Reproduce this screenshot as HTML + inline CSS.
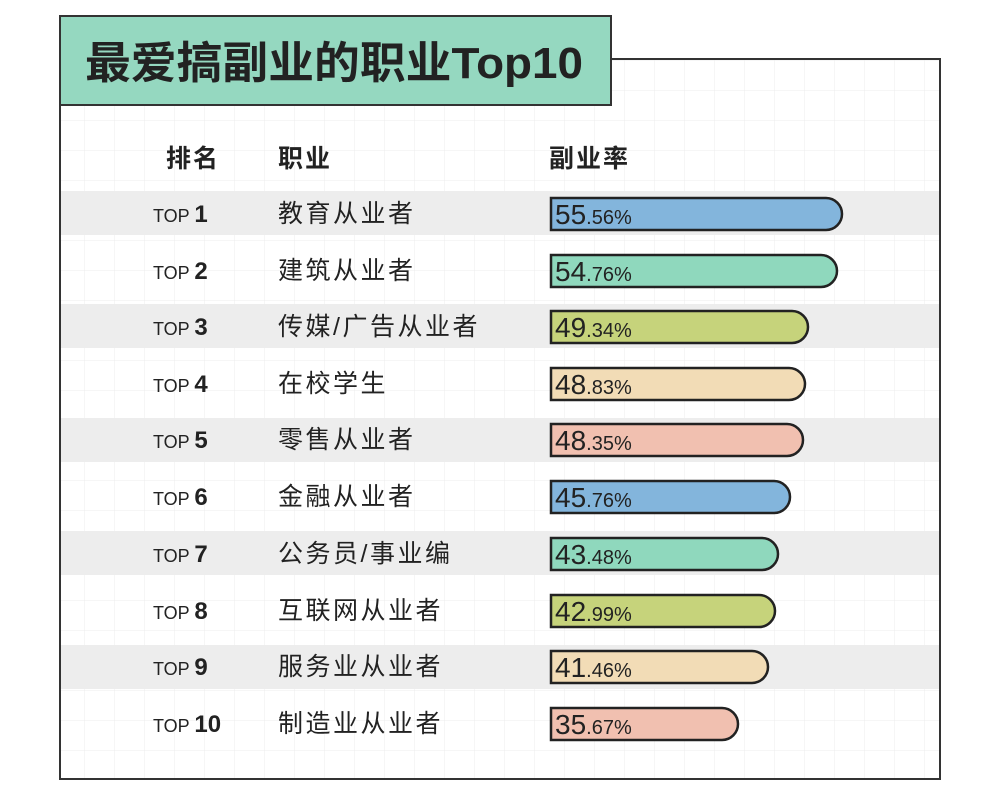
<!DOCTYPE html>
<html><head><meta charset="utf-8"><style>
html,body{margin:0;padding:0;background:#fff;}
svg{display:block;}
text{font-family:"Liberation Sans","Noto Sans CJK SC",sans-serif;fill:#222;}
</style></head><body>
<svg width="1000" height="801" viewBox="0 0 1000 801" xmlns="http://www.w3.org/2000/svg">
<defs>
<pattern id="g" x="24" y="0" width="30" height="30" patternUnits="userSpaceOnUse">
<path d="M0 0H30M0 0V30" stroke="#ececec" stroke-width="1" fill="none"/>
</pattern>
<clipPath id="c"><rect x="60" y="59" width="880" height="720"/></clipPath>
</defs>
<rect x="60" y="59" width="880" height="720" fill="#fff"/>
<rect x="60" y="59" width="880" height="720" fill="url(#g)"/>
<g clip-path="url(#c)" fill="#ededed">
<rect x="60" y="191" width="880" height="44"/>
<rect x="60" y="304" width="880" height="44"/>
<rect x="60" y="418" width="880" height="44"/>
<rect x="60" y="531" width="880" height="44"/>
<rect x="60" y="645" width="880" height="44"/>
</g>
<rect x="60" y="59" width="880" height="720" fill="none" stroke="#333" stroke-width="2"/>
<rect x="60" y="16" width="551" height="89" fill="#95d8c0" stroke="#333" stroke-width="2"/>
<text x="85" y="78" font-size="44" font-weight="bold" fill="#111" textLength="498" lengthAdjust="spacingAndGlyphs">最爱搞副业的职业Top10</text>
<text x="166" y="167" font-size="25" font-weight="bold" letter-spacing="2">排名</text>
<text x="278" y="167" font-size="25" font-weight="bold" letter-spacing="2">职业</text>
<text x="549" y="167" font-size="25" font-weight="bold" letter-spacing="2">副业率</text>
<g stroke="#222" stroke-width="2.5">
<path d="M551 198H826A16 16 0 0 1 826 230H551Z" fill="#83b5dc"/>
<path d="M551 255H821A16 16 0 0 1 821 287H551Z" fill="#8fd8bd"/>
<path d="M551 311H792A16 16 0 0 1 792 343H551Z" fill="#c6d37b"/>
<path d="M551 368H789A16 16 0 0 1 789 400H551Z" fill="#f2dcb6"/>
<path d="M551 424H787A16 16 0 0 1 787 456H551Z" fill="#f1c0b0"/>
<path d="M551 481H774A16 16 0 0 1 774 513H551Z" fill="#83b5dc"/>
<path d="M551 538H762A16 16 0 0 1 762 570H551Z" fill="#8fd8bd"/>
<path d="M551 595H759A16 16 0 0 1 759 627H551Z" fill="#c6d37b"/>
<path d="M551 651H752A16 16 0 0 1 752 683H551Z" fill="#f2dcb6"/>
<path d="M551 708H722A16 16 0 0 1 722 740H551Z" fill="#f1c0b0"/>
</g>
<g font-size="25" letter-spacing="2.5">
<text x="278" y="222">教育从业者</text>
<text x="278" y="279">建筑从业者</text>
<text x="278" y="335">传媒/广告从业者</text>
<text x="278" y="392">在校学生</text>
<text x="278" y="448">零售从业者</text>
<text x="278" y="505">金融从业者</text>
<text x="278" y="562">公务员/事业编</text>
<text x="278" y="619">互联网从业者</text>
<text x="278" y="675">服务业从业者</text>
<text x="278" y="732">制造业从业者</text>
</g>
<g>
<text x="153" y="222"><tspan font-size="18">TOP </tspan><tspan font-size="24" font-weight="bold">1</tspan></text>
<text x="153" y="279"><tspan font-size="18">TOP </tspan><tspan font-size="24" font-weight="bold">2</tspan></text>
<text x="153" y="335"><tspan font-size="18">TOP </tspan><tspan font-size="24" font-weight="bold">3</tspan></text>
<text x="153" y="392"><tspan font-size="18">TOP </tspan><tspan font-size="24" font-weight="bold">4</tspan></text>
<text x="153" y="448"><tspan font-size="18">TOP </tspan><tspan font-size="24" font-weight="bold">5</tspan></text>
<text x="153" y="505"><tspan font-size="18">TOP </tspan><tspan font-size="24" font-weight="bold">6</tspan></text>
<text x="153" y="562"><tspan font-size="18">TOP </tspan><tspan font-size="24" font-weight="bold">7</tspan></text>
<text x="153" y="619"><tspan font-size="18">TOP </tspan><tspan font-size="24" font-weight="bold">8</tspan></text>
<text x="153" y="675"><tspan font-size="18">TOP </tspan><tspan font-size="24" font-weight="bold">9</tspan></text>
<text x="153" y="732"><tspan font-size="18">TOP </tspan><tspan font-size="24" font-weight="bold">10</tspan></text>
</g>
<g>
<text x="555" y="224"><tspan font-size="28">55</tspan><tspan font-size="20">.56%</tspan></text>
<text x="555" y="281"><tspan font-size="28">54</tspan><tspan font-size="20">.76%</tspan></text>
<text x="555" y="337"><tspan font-size="28">49</tspan><tspan font-size="20">.34%</tspan></text>
<text x="555" y="394"><tspan font-size="28">48</tspan><tspan font-size="20">.83%</tspan></text>
<text x="555" y="450"><tspan font-size="28">48</tspan><tspan font-size="20">.35%</tspan></text>
<text x="555" y="507"><tspan font-size="28">45</tspan><tspan font-size="20">.76%</tspan></text>
<text x="555" y="564"><tspan font-size="28">43</tspan><tspan font-size="20">.48%</tspan></text>
<text x="555" y="621"><tspan font-size="28">42</tspan><tspan font-size="20">.99%</tspan></text>
<text x="555" y="677"><tspan font-size="28">41</tspan><tspan font-size="20">.46%</tspan></text>
<text x="555" y="734"><tspan font-size="28">35</tspan><tspan font-size="20">.67%</tspan></text>
</g>
</svg>
</body></html>
